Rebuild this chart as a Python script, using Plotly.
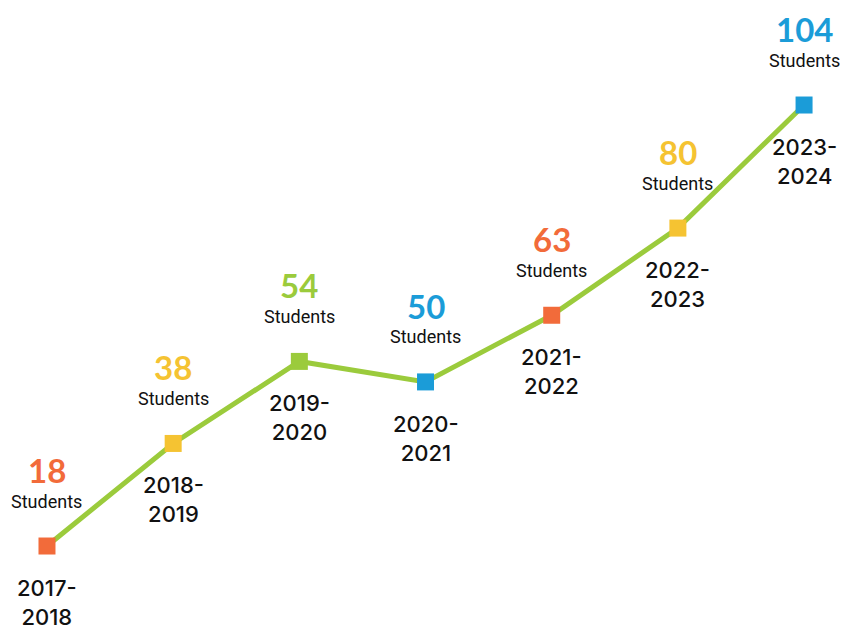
import plotly.graph_objects as go

years = ["2017-<br>2018", "2018-<br>2019", "2019-<br>2020", "2020-<br>2021",
         "2021-<br>2022", "2022-<br>2023", "2023-<br>2024"]
students = [18, 38, 54, 50, 63, 80, 104]
colors = ["#F26B3A", "#F5C332", "#9BCB3C", "#1B9CD8", "#F26B3A", "#F5C332", "#1B9CD8"]
xs = list(range(len(students)))

fig = go.Figure()
fig.add_trace(go.Scatter(
    x=xs, y=students, mode="lines+markers",
    line=dict(color="#9BCB3C", width=5),
    marker=dict(symbol="square", size=17, color=colors, line=dict(width=0)),
    hoverinfo="skip", showlegend=False,
))

for x, v, c, yr in zip(xs, students, colors, years):
    fig.add_annotation(x=x, y=v, text=f"<b>{v}</b>", showarrow=False, borderpad=0,
                       yshift=76, font=dict(family="Lato", size=33, color=c, weight=900))
    fig.add_annotation(x=x, y=v, text="Students", showarrow=False, borderpad=0,
                       yshift=45, font=dict(family="Roboto", size=18, color="#111111"))
    fig.add_annotation(x=x, y=v, text=yr, showarrow=False, yanchor="top", borderpad=0,
                       yshift=-28, font=dict(family="Inter", size=22, color="#111111", weight=500),
                       align="center")

fig.update_layout(
    width=856, height=624,
    margin=dict(l=0, r=0, t=0, b=0),
    paper_bgcolor="white", plot_bgcolor="white",
    xaxis=dict(range=[-0.309, 6.475], visible=False, fixedrange=True),
    yaxis=dict(range=[1.23, 122.92], visible=False, fixedrange=True),
)
fig.write_html("out.html")
